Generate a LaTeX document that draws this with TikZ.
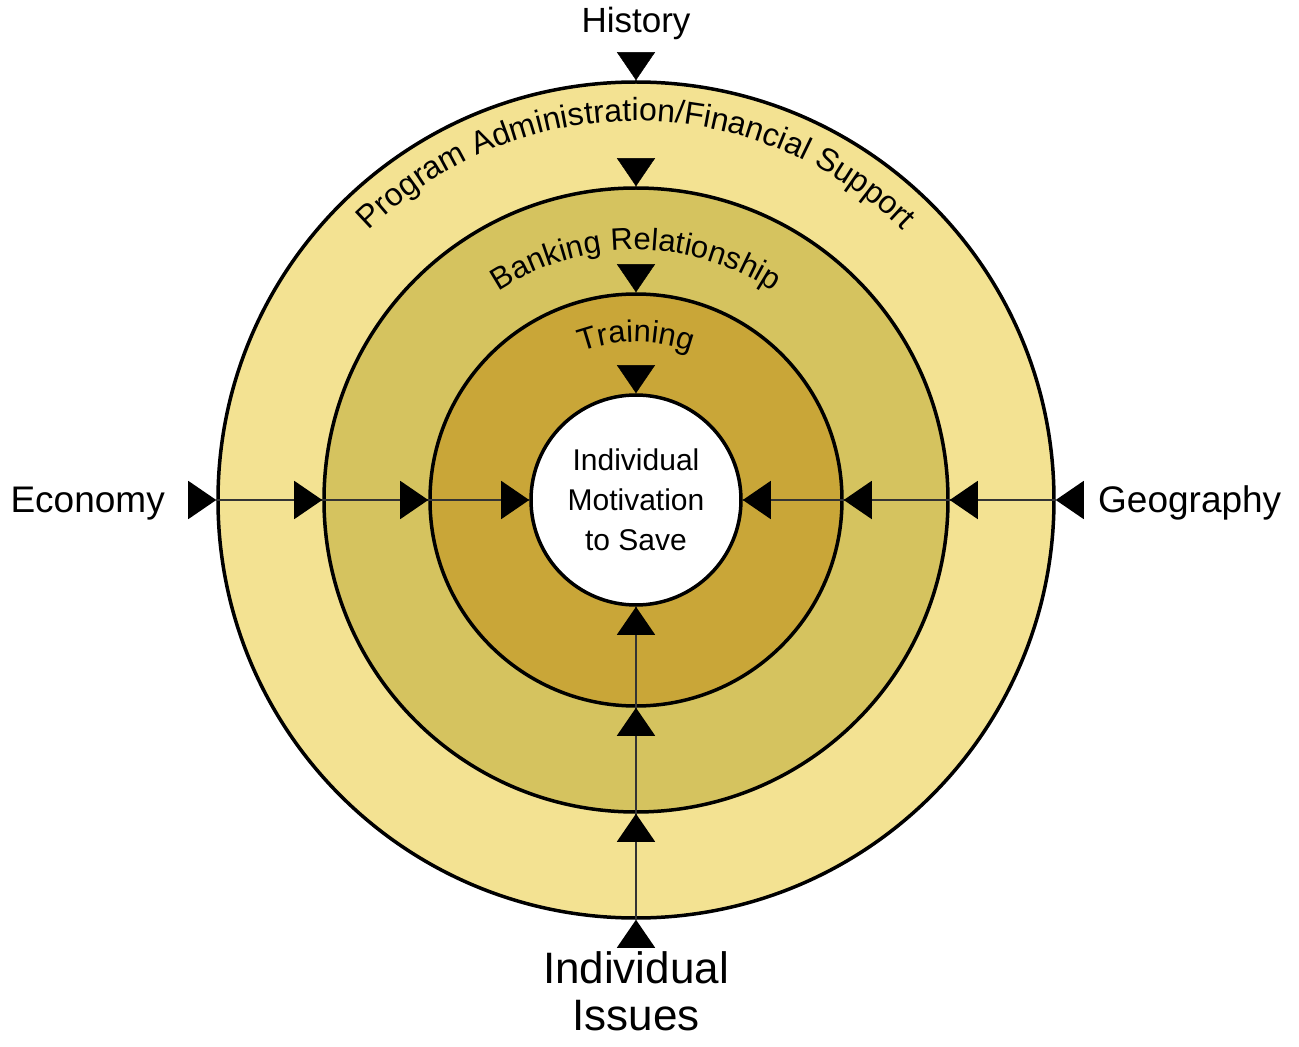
\documentclass[tikz,border=0pt]{standalone}
\usepackage{fontspec}
\setmainfont{Liberation Sans}
\usepackage{xcolor}
\usetikzlibrary{arrows.meta, decorations.markings, decorations.text}

\definecolor{outerring}{HTML}{F3E292}
\definecolor{middlering}{HTML}{D5C35F}
\definecolor{innerring}{HTML}{C9A638}

\begin{document}
\begin{tikzpicture}[x=1pt, y=1pt,
    ring/.style={circle, draw=black, line width=3.5pt, inner sep=0pt},
    tri/.tip={Triangle[length=28pt, width=38pt, color=black, fill=black]},
    spoke/.style={postaction={decorate}, decoration={markings,
        mark=at position 0pt with {\arrow{tri}},
        mark=at position 106pt with {\arrow{tri}},
        mark=at position 212pt with {\arrow{tri}},
        mark=at position 0.9999 with {\arrow{tri}}}},
    spokeline/.style={draw=black!80, line width=1.5pt},
    arctext/.style={decorate, decoration={text along path, text align=center, text={#1}}},
    outside/.style={font=\fontsize{37}{40}\selectfont, inner sep=0pt}]
    \useasboundingbox (-636,-547) rectangle (663,500);

    % rings, outermost first
    \node[ring, fill=outerring, minimum size=836pt] (admin) at (0, 0) {};
    \node[ring, fill=middlering, minimum size=624pt] (banking) at (0, 0) {};
    \node[ring, fill=innerring, minimum size=412pt] (training) at (0, 0) {};
    \node[ring, fill=white, minimum size=210pt, align=center, font=\fontsize{30}{40}\selectfont] (motive) at (0, 0) {Individual\\Motivation\\to Save};

    % ring titles
    \path[arctext={|\fontsize{32}{34}\selectfont|Program Administration/Financial Support}] (170:379) arc[start angle=170, end angle=10, radius=379];
    \path[arctext={|\fontsize{31}{34}\selectfont|Banking Relationship}] (170:250) arc[start angle=170, end angle=10, radius=250];
    \path[arctext={|\fontsize{31}{34}\selectfont|Training}] (170:158) arc[start angle=170, end angle=10, radius=158];

    % outside influences
    \node[outside, font=\fontsize{35}{40}\selectfont, anchor=base] (history) at (0, 467) {History};
    \node[outside, anchor=base east] (economy) at (-471, -12) {Economy};
    \node[outside, anchor=base west] (geography) at (462, -12) {Geography};
    \node[outside, font=\fontsize{44}{47}\selectfont, align=center, anchor=north] (issues) at (0, -451) {Individual\\Issues};

    \draw[spokeline, spoke] (admin.west) -- (motive.west);
    \draw[spokeline, spoke] (admin.east) -- (motive.east);
    \draw[spokeline, spoke] (admin.south) -- (motive.south);
    \path[spoke] (admin.north) -- (motive.north);
\end{tikzpicture}
\end{document}
